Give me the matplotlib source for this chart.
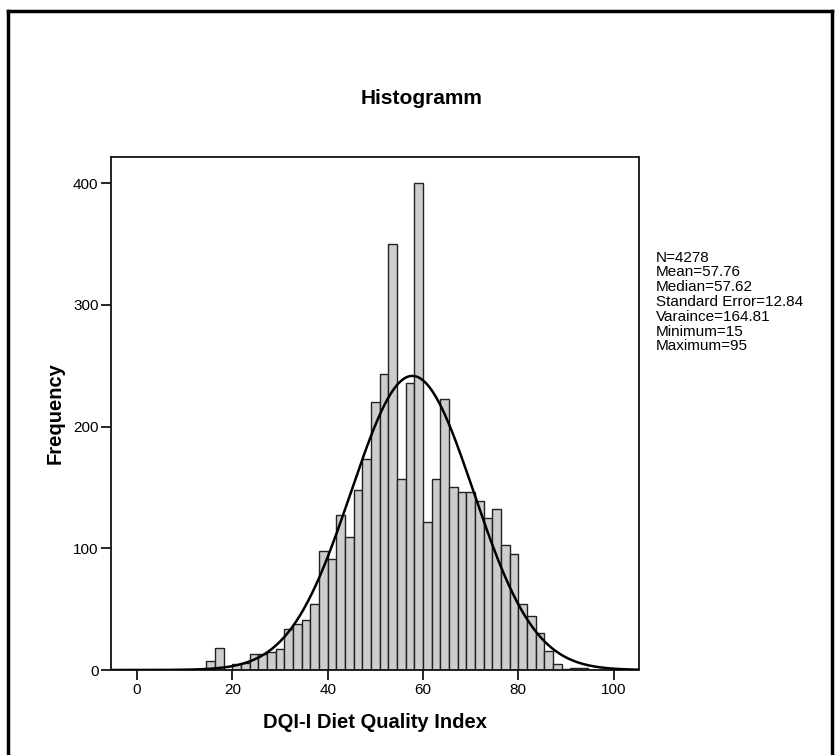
import numpy as np
import matplotlib
matplotlib.use("Agg")
import matplotlib.pyplot as plt
from matplotlib.lines import Line2D

plt.rcParams["font.family"] = ["Liberation Sans", "DejaVu Sans"]

# histogram bins (width 20/11, first edge ~14.55)
first_edge = 14.545
bin_width = 20 / 11
counts = [7, 18, 0, 5, 6, 13, 13, 15, 17, 34, 38, 41, 54, 98, 91, 127, 109,
          148, 173, 220, 243, 350, 157, 236, 400, 122, 157, 223, 150, 146,
          146, 139, 125, 132, 103, 95, 54, 44, 30, 16, 5, 1, 2, 2]

# summary stats shown at the right
n_obs = 4278
mean = 57.76
median = 57.62
sd = 12.84
variance = 164.81
min_val = 15
max_val = 95

stats_lines = ["N=%d" % n_obs, "Mean=%.2f" % mean, "Median=%.2f" % median,
               "Standard Error=%.2f" % sd, "Varaince=%.2f" % variance,
               "Minimum=%d" % min_val, "Maximum=%d" % max_val]

fig = plt.figure(figsize=(8.4, 7.55), dpi=100)
W, H = 840, 755
ax = fig.add_axes([111 / W, 1 - 670 / H, (638.5 - 111) / W, (670 - 156.7) / H])

lefts = first_edge + bin_width * np.arange(len(counts))
ax.bar(lefts, counts, width=bin_width, align="edge", color="#cdcdcd",
       edgecolor="#222222", linewidth=1.0, zorder=2)

# fitted normal curve
xs = np.linspace(-5.45, 105.2, 400)
ys = n_obs * bin_width * np.exp(-0.5 * ((xs - mean) / sd) ** 2) / (sd * np.sqrt(2 * np.pi))
ax.plot(xs, ys, color="black", linewidth=1.8, zorder=3)

ax.set_xlim(-5.45, 105.2)
ax.set_ylim(0, 421.8)
ax.set_xticks([0, 20, 40, 60, 80, 100])
ax.set_yticks([0, 100, 200, 300, 400])
ax.tick_params(direction="out", length=7.5, width=1.2, pad=1.5, labelsize=11,
               colors="black")
for s in ax.spines.values():
    s.set_linewidth(1.3)
    s.set_color("#111111")

ax.set_xlabel("DQI-I Diet Quality Index", fontsize=14.5, fontweight="bold", labelpad=12)
ax.set_ylabel("Frequency", fontsize=14.5, fontweight="bold", labelpad=6)

fig.text(422 / W, 1 - 104 / H, "Histogramm", ha="center", va="baseline",
         fontsize=15, fontweight="bold")

for i, line in enumerate(stats_lines):
    fig.text(656 / W, 1 - (261.7 + 14.8 * i) / H, line, ha="left",
             va="baseline", fontsize=11)

# outer frame (left, top, right)
frame_kw = dict(color="black", linewidth=2.5, transform=fig.transFigure)
fig.add_artist(Line2D([7.5 / W, 7.5 / W], [0, 1 - 11 / H], **frame_kw))
fig.add_artist(Line2D([7.5 / W, 832 / W], [1 - 11 / H, 1 - 11 / H], **frame_kw))
fig.add_artist(Line2D([832 / W, 832 / W], [0, 1 - 11 / H], **frame_kw))

fig.savefig("out.png", dpi=100)
